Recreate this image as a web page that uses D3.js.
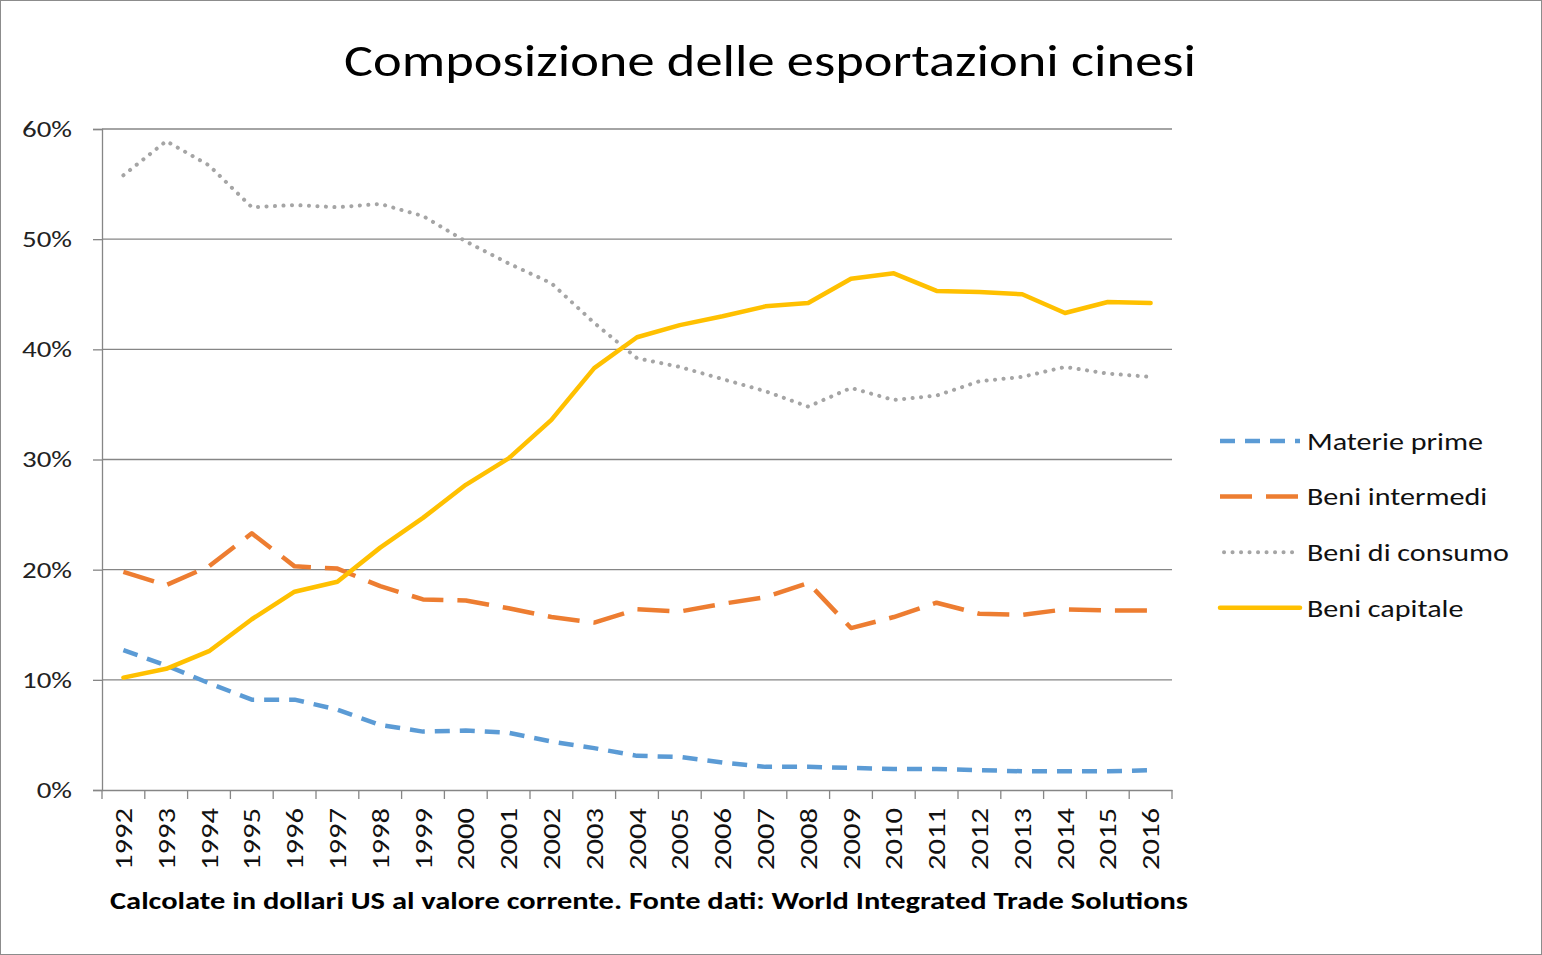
<!DOCTYPE html>
<html><head><meta charset="utf-8">
<script src="https://cdn.jsdelivr.net/npm/d3@7"></script>
<style>html,body{margin:0;padding:0;background:#fff;}svg{display:block;}</style>
</head><body>
<svg id="chart" width="1542" height="955"></svg>
<script>
const years = ["1992","1993","1994","1995","1996","1997","1998","1999","2000","2001","2002","2003","2004","2005","2006","2007","2008","2009","2010","2011","2012","2013","2014","2015","2016"];
const materiePrime = [12.7,11.3,9.7,8.2,8.2,7.3,5.9,5.3,5.4,5.2,4.4,3.8,3.1,3.0,2.5,2.1,2.1,2.0,1.9,1.9,1.8,1.7,1.7,1.7,1.8];
const beniIntermedi = [19.8,18.6,20.3,23.3,20.3,20.1,18.5,17.3,17.2,16.5,15.7,15.2,16.4,16.2,16.9,17.5,18.8,14.7,15.7,17.0,16.0,15.9,16.4,16.3,16.3];
const beniConsumo = [55.8,58.9,56.7,52.9,53.1,52.9,53.2,52.1,49.8,47.8,46.0,42.4,39.2,38.4,37.3,36.2,34.8,36.5,35.4,35.8,37.1,37.5,38.4,37.8,37.5];
const beniCapitale = [10.2,11.0,12.6,15.5,18.0,18.9,22.0,24.7,27.7,30.1,33.6,38.3,41.1,42.2,43.0,43.9,44.2,46.4,46.9,45.3,45.2,45.0,43.3,44.3,44.2];
const seriesNames = ["Materie prime","Beni intermedi","Beni di consumo","Beni capitale"];
const yTicks = [0,10,20,30,40,50,60];
const titleText = "Composizione delle esportazioni cinesi";
const captionText = "Calcolate in dollari US al valore corrente. Fonte dati: World Integrated Trade Solutions";

const series = [
  {name: seriesNames[0], values: materiePrime, color: "#5B9BD5", dash: "15,10", cap: "butt", width: 4.5},
  {name: seriesNames[1], values: beniIntermedi, color: "#ED7D31", dash: "32,14", cap: "butt", width: 4.5},
  {name: seriesNames[2], values: beniConsumo, color: "#A5A5A5", dash: "0.1,8.4", cap: "round", width: 4},
  {name: seriesNames[3], values: beniCapitale, color: "#FFC000", dash: null, cap: "round", width: 4.5}
];

const svg = d3.select("#chart");
const font = "Calibri, Carlito, Lato, 'Open Sans', 'Liberation Sans', sans-serif";

svg.append("rect").attr("x",0.5).attr("y",0.5).attr("width",1541).attr("height",954)
  .attr("fill","#fff").attr("stroke","#8c8c8c").attr("stroke-width",1);

const pL = 102, pR = 1172, pT = 129, pB = 790;
const x = d3.scaleBand().domain(years).range([pL, pR]).padding(0);
const y = d3.scaleLinear().domain([0, 60]).range([pB, pT]);

function stretch(sel, factor) {
  sel.each(function() {
    const len = this.getComputedTextLength();
    d3.select(this).attr("textLength", len * factor).attr("lengthAdjust", "spacingAndGlyphs");
  });
}

// title
svg.append("text").attr("x", 770).attr("y", 76).attr("text-anchor","middle")
  .attr("font-family", font).attr("font-size", 45).attr("fill","#000")
  .attr("textLength", 852).attr("lengthAdjust","spacingAndGlyphs")
  .text(titleText);

// gridlines
svg.append("g").selectAll("line").data(yTicks.filter(d=>d>0)).join("line")
  .attr("x1", pL).attr("x2", pR)
  .attr("y1", d=>y(d)).attr("y2", d=>y(d))
  .attr("stroke","#868686").attr("stroke-width",1.3);

// y axis
const yAxis = svg.append("g").attr("transform",`translate(${pL},0)`)
  .call(d3.axisLeft(y).tickValues(yTicks).tickFormat(d=>d+"%").tickSize(9).tickPadding(21));
yAxis.select(".domain").attr("stroke","#868686").attr("stroke-width",1.3);
yAxis.selectAll(".tick line").attr("stroke","#868686").attr("stroke-width",1.3);
const yLabels = yAxis.selectAll(".tick text").attr("font-family",font).attr("font-size",23).attr("fill","#222");
{
  const ref = yLabels.filter(d=>d===60).node().getComputedTextLength();
  stretch(yLabels, 50 / ref);
}

// x axis
const xAxis = svg.append("g").attr("transform",`translate(0,${pB})`)
  .call(d3.axisBottom(x).tickSize(0).tickPadding(0));
xAxis.select(".domain").attr("stroke","#868686").attr("stroke-width",1.3);
const xLabels = xAxis.selectAll(".tick text")
  .attr("font-family",font).attr("font-size",24).attr("fill","#111")
  .attr("transform","rotate(-90)").attr("text-anchor","end")
  .attr("x",-18).attr("y",0).attr("dy","0.36em");
{
  const ref = xLabels.node().getComputedTextLength();
  stretch(xLabels, 62 / ref);
}
// category boundary ticks
const bounds = years.map(d=>x(d)).concat([x(years[years.length-1]) + x.bandwidth()]);
svg.append("g").selectAll("line").data(bounds).join("line")
  .attr("x1",d=>d).attr("x2",d=>d).attr("y1",pB).attr("y2",pB+9)
  .attr("stroke","#868686").attr("stroke-width",1.3);

// lines
const line = d3.line().x((d,i)=>x(years[i]) + x.bandwidth()/2).y(d=>y(d));
svg.append("g").selectAll("path").data(series).join("path")
  .attr("d", d=>line(d.values))
  .attr("fill","none")
  .attr("stroke", d=>d.color)
  .attr("stroke-width", d=>d.width)
  .attr("stroke-dasharray", d=>d.dash)
  .attr("stroke-linecap", d=>d.cap)
  .attr("stroke-linejoin","round");

// legend
const lg = svg.append("g").selectAll("g").data(series).join("g")
  .attr("transform",(d,i)=>`translate(1220,${441 + i*55.6})`);
lg.append("line").attr("x1",d=>d.name===seriesNames[2]?4:0).attr("x2",80).attr("y1",0).attr("y2",0)
  .attr("stroke",d=>d.color).attr("stroke-width",d=>d.width)
  .attr("stroke-dasharray",d=>d.dash)
  .attr("stroke-linecap",d=>d.cap);
const lgText = lg.append("text").attr("x",87).attr("y",0).attr("dy","0.35em")
  .attr("font-family",font).attr("font-size",25).attr("fill","#111")
  .text(d=>d.name);
{
  const ref = lgText.filter(d=>d.name===seriesNames[2]).node().getComputedTextLength();
  stretch(lgText, 202 / ref);
}

// caption
svg.append("text").attr("x", 649).attr("y", 909).attr("text-anchor","middle")
  .attr("font-family", font).attr("font-size", 24).attr("font-weight","bold").attr("fill","#000")
  .attr("textLength", 1078).attr("lengthAdjust","spacingAndGlyphs")
  .text(captionText);
</script>
</body></html>
